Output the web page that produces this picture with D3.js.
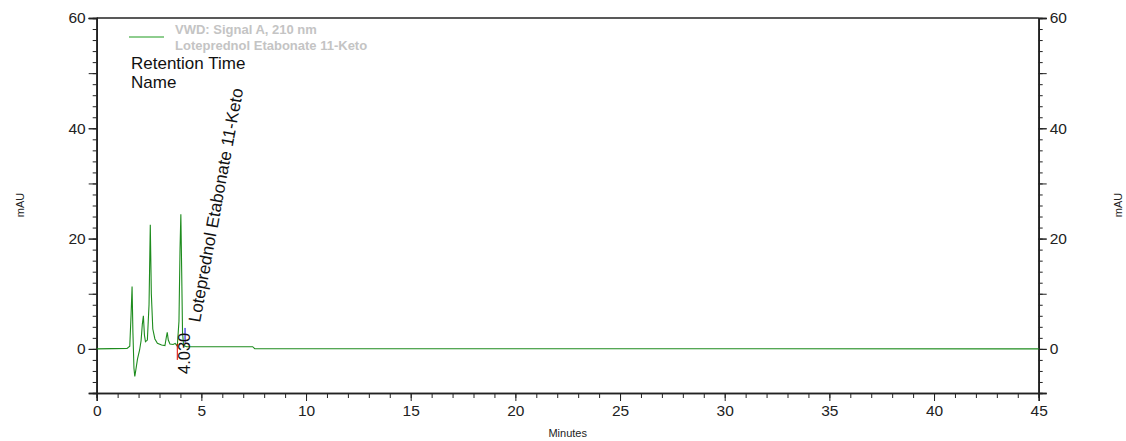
<!DOCTYPE html>
<html>
<head>
<meta charset="utf-8">
<script src="https://cdn.jsdelivr.net/npm/d3@7"></script>
<style>
  body { margin: 0; background: #fff; }
  svg { display: block; font-family: "Liberation Sans", Arial, sans-serif; }
</style>
</head>
<body>
<div id="chart"></div>
<script>
// chromatogram trace (minutes, mAU)
const times  = [0, 1.45, 1.58, 1.64, 1.69, 1.73, 1.78, 1.82, 1.87, 1.95, 2.05, 2.12, 2.18, 2.23, 2.28, 2.33, 2.42, 2.50, 2.56, 2.61, 2.68, 2.78, 2.90, 3.10, 3.26, 3.33, 3.37, 3.42, 3.50, 3.65, 3.75, 3.85, 3.93, 3.98, 4.02, 4.06, 4.10, 4.15, 4.30, 7.45, 7.55, 45];
const signal = [0, 0.1, 0.5, 6.0, 11.3, 3.0, -3.5, -5.0, -3.8, -1.8, -0.2, 1.5, 4.5, 6.0, 2.5, 1.3, 1.6, 8.0, 22.5, 10.0, 3.6, 1.8, 1.0, 0.7, 0.6, 2.2, 3.0, 1.6, 0.9, 0.8, 1.0, 0.5, 5.0, 18.0, 24.4, 14.0, 3.0, 0.6, 0.4, 0.4, 0.05, 0];

// peak integration marks: [time, from, to]
const peakStart = [3.85, 0.9, -2.0];
const peakEnd   = [4.22, 1.1, 3.8];
const peakTime  = "4.030";
const peakName  = "Loteprednol Etabonate 11-Keto";

const xTicks = [0, 5, 10, 15, 20, 25, 30, 35, 40, 45];
const yTicks = [0, 20, 40, 60];

const width = 1126, height = 441;
const margin = {left: 96.7, right: 1126 - 1038.7, top: 18, bottom: 441 - 393};

const svg = d3.select("#chart").append("svg")
    .attr("width", width)
    .attr("height", height);

const x = d3.scaleLinear().domain([0, 45]).range([margin.left, width - margin.right]);
const y = d3.scaleLinear().domain([-8, 60]).range([height - margin.bottom, margin.top]);

const axisColor = "#222";

// bottom axis: minor every 1, major every 5
const xAxis = svg.append("g").attr("transform", "translate(0," + y(-8) + ")");
xAxis.call(d3.axisBottom(x).tickValues(d3.range(0, 46, 1)).tickSize(5).tickFormat(""));
xAxis.append("g").call(d3.axisBottom(x).tickValues(xTicks).tickSize(8).tickPadding(4));

// left / right axes: minor every 2, major every 10
const yLeft = svg.append("g").attr("transform", "translate(" + x(0) + ",0)");
yLeft.call(d3.axisLeft(y).tickValues(d3.range(-8, 61, 2)).tickSize(4).tickFormat(""));
yLeft.append("g").call(d3.axisLeft(y).tickValues(d3.range(0, 61, 10)).tickSize(8).tickFormat(""));
yLeft.append("g").call(d3.axisLeft(y).tickValues(yTicks).tickSize(8).tickPadding(3));

const yRight = svg.append("g").attr("transform", "translate(" + x(45) + ",0)");
yRight.call(d3.axisRight(y).tickValues(d3.range(-8, 61, 2)).tickSize(4).tickFormat(""));
yRight.append("g").call(d3.axisRight(y).tickValues(d3.range(0, 61, 10)).tickSize(8).tickFormat(""));
yRight.append("g").call(d3.axisRight(y).tickValues(yTicks).tickSize(8).tickPadding(3));

svg.selectAll(".domain").attr("stroke", axisColor).attr("stroke-width", 1.5);
svg.selectAll(".tick line").attr("stroke", axisColor);
svg.selectAll(".tick text").attr("fill", "#222").attr("font-size", 15.5)
    .attr("font-family", "Liberation Sans, Arial, sans-serif");

// top frame line
svg.append("line")
    .attr("x1", x(0)).attr("x2", x(45))
    .attr("y1", y(60)).attr("y2", y(60))
    .attr("stroke", axisColor).attr("stroke-width", 1.5);

// trace
const line = d3.line().x((d, i) => x(times[i])).y(d => y(d));
svg.append("path")
    .datum(signal)
    .attr("d", line)
    .attr("fill", "none")
    .attr("stroke", "#1e8c1e")
    .attr("stroke-width", 1.1);

// integration markers
svg.append("line")
    .attr("x1", x(peakStart[0])).attr("x2", x(peakStart[0]))
    .attr("y1", y(peakStart[1])).attr("y2", y(peakStart[2]))
    .attr("stroke", "#e00000").attr("stroke-width", 1);
svg.append("line")
    .attr("x1", x(peakEnd[0])).attr("x2", x(peakEnd[0]))
    .attr("y1", y(peakEnd[1])).attr("y2", y(peakEnd[2]))
    .attr("stroke", "#0000e0").attr("stroke-width", 1);

// peak labels
svg.append("text")
    .attr("transform", "translate(190,374) rotate(-90)")
    .attr("font-size", 16.5)
    .attr("fill", "#111")
    .text(peakTime);
svg.append("text")
    .attr("transform", "translate(200,323) rotate(-79.5)")
    .attr("font-size", 17.2)
    .attr("fill", "#111")
    .text(peakName);

// legend
svg.append("line")
    .attr("x1", 129).attr("x2", 164).attr("y1", 37).attr("y2", 37)
    .attr("stroke", "#1e9c1e").attr("stroke-width", 1.2);
svg.append("text").attr("x", 175).attr("y", 34)
    .attr("font-size", 13).attr("font-weight", "bold").attr("fill", "#c4c4c4")
    .text("VWD: Signal A, 210 nm");
svg.append("text").attr("x", 175).attr("y", 50)
    .attr("font-size", 13).attr("font-weight", "bold").attr("fill", "#c4c4c4")
    .text("Loteprednol Etabonate 11-Keto");
svg.append("text").attr("x", 131).attr("y", 69)
    .attr("font-size", 17).attr("fill", "#111")
    .text("Retention Time");
svg.append("text").attr("x", 131).attr("y", 88)
    .attr("font-size", 17).attr("fill", "#111")
    .text("Name");

// axis titles
svg.append("text")
    .attr("transform", "translate(24,205) rotate(-90)")
    .attr("text-anchor", "middle").attr("font-size", 11).attr("fill", "#222")
    .text("mAU");
svg.append("text")
    .attr("transform", "translate(1122,205) rotate(-90)")
    .attr("text-anchor", "middle").attr("font-size", 11).attr("fill", "#222")
    .text("mAU");
svg.append("text")
    .attr("x", (x(0) + x(45)) / 2).attr("y", 437)
    .attr("text-anchor", "middle").attr("font-size", 11).attr("fill", "#222")
    .text("Minutes");
</script>
</body>
</html>
